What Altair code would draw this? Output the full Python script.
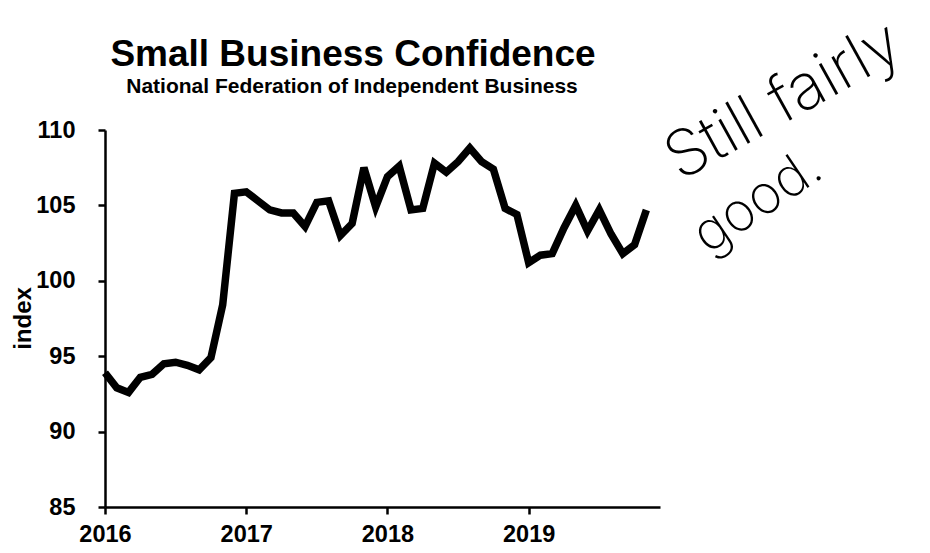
import altair as alt
import pandas as pd

months = [
    "2016-01", "2016-02", "2016-03", "2016-04", "2016-05", "2016-06",
    "2016-07", "2016-08", "2016-09", "2016-10", "2016-11", "2016-12",
    "2017-01", "2017-02", "2017-03", "2017-04", "2017-05", "2017-06",
    "2017-07", "2017-08", "2017-09", "2017-10", "2017-11", "2017-12",
    "2018-01", "2018-02", "2018-03", "2018-04", "2018-05", "2018-06",
    "2018-07", "2018-08", "2018-09", "2018-10", "2018-11", "2018-12",
    "2019-01", "2019-02", "2019-03", "2019-04", "2019-05", "2019-06",
    "2019-07", "2019-08", "2019-09", "2019-10", "2019-11",
]
index_values = [
    93.9, 92.9, 92.6, 93.6, 93.8, 94.5, 94.6, 94.4, 94.1, 94.9, 98.4, 105.8,
    105.9, 105.3, 104.7, 104.5, 104.5, 103.6, 105.2, 105.3, 103.0, 103.8, 107.5, 104.9,
    106.9, 107.6, 104.7, 104.8, 107.8, 107.2, 107.9, 108.8, 107.9, 107.4, 104.8, 104.4,
    101.2, 101.7, 101.8, 103.5, 105.0, 103.3, 104.7, 103.1, 101.8, 102.4, 104.7,
]
year_ticks = [2016, 2017, 2018, 2019]
y_ticks = [85, 90, 95, 100, 105, 110]

title_text = "Small Business Confidence"
subtitle_text = "National Federation of Independent Business"
note_line1 = "Still fairly"
note_line2 = "good."

df = pd.DataFrame({"month": months, "index": index_values})
df["t"] = [int(m[:4]) + (int(m[5:]) - 1) / 12 for m in months]

FONT = "Liberation Sans"

line = alt.Chart(df).mark_line(color="black", strokeWidth=7.5, clip=False).encode(
    x=alt.X(
        "t:Q",
        scale=alt.Scale(domain=[2016, 2019.93], nice=False, zero=False),
        axis=alt.Axis(values=year_ticks, format="d", title=None,
                      labelPadding=8, labelFlush=False),
    ),
    y=alt.Y(
        "index:Q",
        scale=alt.Scale(domain=[85, 110], nice=False, zero=False),
        axis=alt.Axis(
            values=y_ticks, title="index", labelPadding=23, labelFlush=False,
            titleAngle=270, titleX=-75, titleY=188, titleAlign="center",
            titleBaseline="alphabetic",
        ),
    ),
)


def text_layer(txt, **kw):
    return alt.Chart(pd.DataFrame({"txt": [txt]})).mark_text(color="black", **kw)


title = text_layer(
    title_text, font=FONT, fontSize=37, fontWeight="bold",
    align="center", baseline="alphabetic",
).encode(text="txt:N", x=alt.value(248), y=alt.value(-64))

subtitle = text_layer(
    subtitle_text, font=FONT, fontSize=21, fontWeight="bold",
    align="center", baseline="alphabetic",
).encode(text="txt:N", x=alt.value(247), y=alt.value(-37))

note1 = text_layer(
    note_line1, font="Inter", fontWeight=200, fontSize=64, angle=331,
    align="center", baseline="middle",
).encode(text="txt:N", x=alt.value(679), y=alt.value(-28))

note2 = text_layer(
    note_line2, font="Inter", fontWeight=200, fontSize=54, angle=326,
    align="center", baseline="middle",
).encode(text="txt:N", x=alt.value(653), y=alt.value(72))

chart = (
    alt.layer(line, title, subtitle, note1, note2)
    .properties(
        width=555,
        height=377,
        autosize=alt.AutoSizeParams(type="none"),
        padding={"left": 97, "top": 122, "right": 262, "bottom": 38},
    )
    .configure_view(stroke=None)
    .configure_axis(
        grid=False,
        domainColor="black",
        domainWidth=2.5,
        tickColor="black",
        tickWidth=2.5,
        tickSize=7,
        labelFont=FONT,
        labelFontSize=23.5,
        labelFontWeight="bold",
        labelColor="black",
        titleFont=FONT,
        titleFontSize=24,
        titleFontWeight="bold",
        titleColor="black",
    )
)

chart.save("out.html", embed_options={"renderer": "svg", "actions": False})
